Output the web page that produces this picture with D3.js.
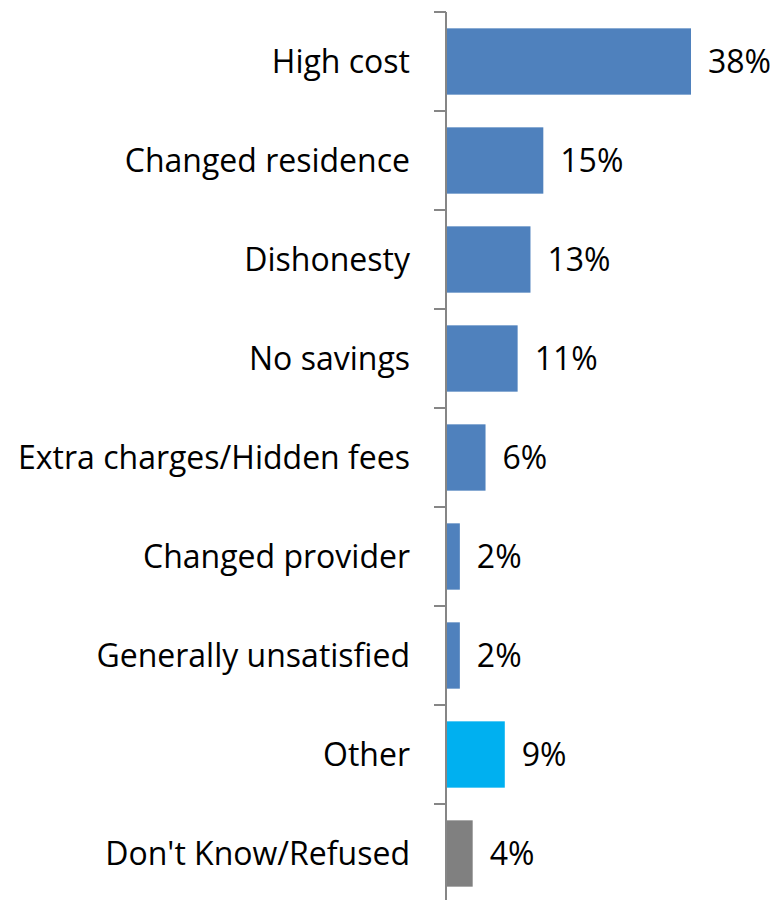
<!DOCTYPE html>
<html>
<head>
<meta charset="utf-8">
<script src="https://cdn.jsdelivr.net/npm/d3@7"></script>
<style>
  html, body { margin: 0; padding: 0; background: #fff; }
  svg { display: block; }
  text { font-family: "Open Sans", "Noto Sans", sans-serif; fill: #000; }
</style>
</head>
<body>
<svg id="chart" width="774" height="900"></svg>
<script>
// Reasons given, top to bottom
const categories = [
  "High cost",
  "Changed residence",
  "Dishonesty",
  "No savings",
  "Extra charges/Hidden fees",
  "Changed provider",
  "Generally unsatisfied",
  "Other",
  "Don't Know/Refused"
];
// Share of respondents (%)
const values = [38, 15, 13, 11, 6, 2, 2, 9, 4];
// Bar fill per category group
const groups = ["main", "main", "main", "main", "main", "main", "main", "other", "dk"];

const colorOf = { main: "#4F81BD", other: "#00B0F0", dk: "#808080" };

const svg = d3.select("#chart");
const axisX = 446;
const plotTop = 12, plotBottom = 903;

const y = d3.scaleBand()
  .domain(categories)
  .range([plotTop, plotBottom])
  .paddingInner(0.33)
  .paddingOuter(0.165);

const x = d3.scaleLinear()
  .domain([0, 38])
  .range([axisX + 1, 691]);

const rows = categories.map((c, i) => ({ c, v: values[i], g: groups[i] }));

// bars
svg.append("g").selectAll("rect")
  .data(rows)
  .join("rect")
  .attr("x", x(0))
  .attr("y", d => y(d.c))
  .attr("width", d => x(d.v) - x(0))
  .attr("height", y.bandwidth())
  .attr("fill", d => colorOf[d.g]);

// category axis with ticks on band boundaries
const axisG = svg.append("g");
axisG.append("line")
  .attr("x1", axisX).attr("x2", axisX)
  .attr("y1", plotTop).attr("y2", plotBottom)
  .attr("stroke", "#868686").attr("stroke-width", 2);
const boundaries = d3.range(categories.length + 1)
  .map(i => plotTop + i * ((plotBottom - plotTop) / categories.length));
axisG.selectAll("line.tick")
  .data(boundaries)
  .join("line")
  .attr("class", "tick")
  .attr("x1", axisX - 12).attr("x2", axisX)
  .attr("y1", d => d).attr("y2", d => d)
  .attr("stroke", "#868686").attr("stroke-width", 2);

// category labels
svg.append("g").selectAll("text")
  .data(rows)
  .join("text")
  .attr("x", 410)
  .attr("y", d => y(d.c) + y.bandwidth() / 2)
  .attr("dy", "0.35em")
  .attr("text-anchor", "end")
  .attr("font-size", 32)
  .text(d => d.c);

// value labels
svg.append("g").selectAll("text")
  .data(rows)
  .join("text")
  .attr("x", d => x(d.v) + 17)
  .attr("y", d => y(d.c) + y.bandwidth() / 2)
  .attr("dy", "0.35em")
  .attr("font-size", 32)
  .text(d => d.v + "%");
</script>
</body>
</html>
